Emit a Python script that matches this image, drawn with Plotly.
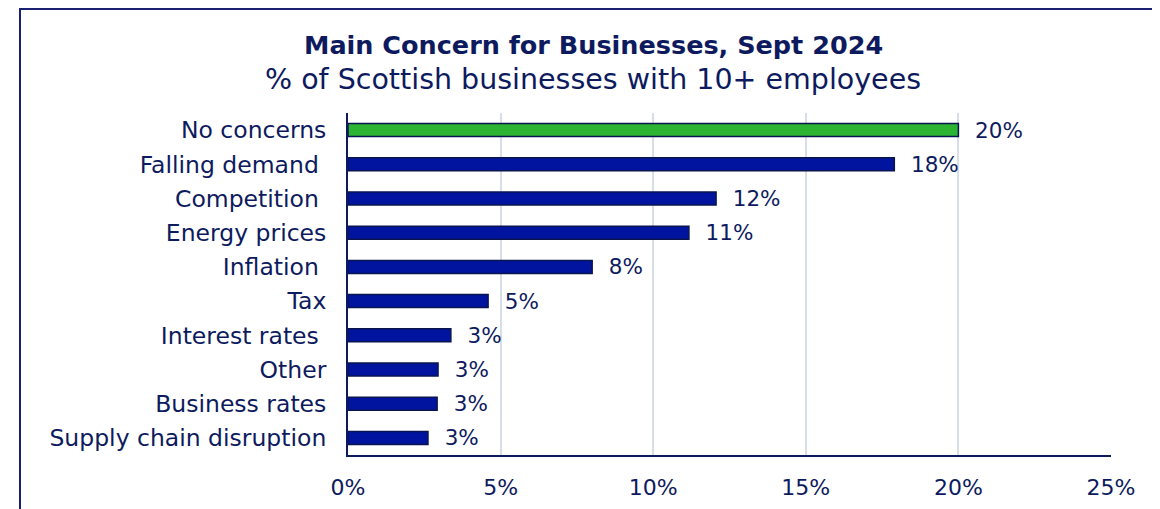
import plotly.graph_objects as go

categories = ["No concerns", "Falling demand\u00a0", "Competition\u00a0", "Energy prices", "Inflation\u00a0",
              "Tax", "Interest rates\u00a0", "Other", "Business rates", "Supply chain disruption"]
values = [20.0, 17.9, 12.06, 11.17, 8.0, 4.59, 3.37, 2.95, 2.92, 2.62]
bar_colors = ["#2db432"] + ["#0014a0"] * 9
x_tickvals = [0, 5, 10, 15, 20, 25]
x_ticktext = ["0%", "5%", "10%", "15%", "20%", "25%"]

title = "Main Concern for Businesses, Sept 2024"
subtitle = "% of Scottish businesses with 10+ employees"

NAVY = "#0d1a5e"
FONT = "DejaVu Sans"

# page is offset by the browser's body margin (~8px), so layout numbers are in figure coords
L, R, T, B = 340, 1103, 105, 447
W, H = R - L, B - T


def px(x):
    return (x - L) / W


def py(y):
    return (B - y) / H


fig = go.Figure(go.Bar(
    x=values, y=categories, orientation="h",
    marker=dict(color=bar_colors, line=dict(color="#0a154f", width=1.5)),
    text=[f"\u00a0\u00a0{v:.0f}%" for v in values],
    textposition="outside", cliponaxis=False, constraintext="none",
    textfont=dict(family=FONT, size=21.5, color=NAVY),
))

fig.update_layout(
    width=1160, height=509,
    margin=dict(l=L, r=1160 - R, t=T, b=509 - B),
    paper_bgcolor="white", plot_bgcolor="white",
    bargap=0.62,
    showlegend=False,
    font=dict(family=FONT, size=21, color=NAVY),
    xaxis=dict(range=[0, 25], tickvals=x_tickvals, ticktext=x_ticktext,
               showgrid=True, gridcolor="#d6dfe9", gridwidth=2,
               showline=True, linecolor=NAVY, linewidth=2,
               ticks="", ticklabelstandoff=12, zeroline=False,
               tickfont=dict(family=FONT, size=22, color=NAVY)),
    yaxis=dict(autorange="reversed", showline=True, linecolor=NAVY, linewidth=2,
               ticks="", ticklabelstandoff=15, showgrid=False,
               tickfont=dict(family=FONT, size=23.5, color=NAVY)),
    annotations=[
        dict(text=f"<b>{title}</b>", xref="paper", yref="paper",
             x=px(585), y=py(37), xanchor="center", yanchor="middle",
             showarrow=False, font=dict(family=FONT, size=25.5, color=NAVY)),
        dict(text=subtitle, xref="paper", yref="paper",
             x=px(585), y=py(72), xanchor="center", yanchor="middle",
             showarrow=False, font=dict(family=FONT, size=28.5, color=NAVY)),
    ],
    shapes=[
        dict(type="line", xref="paper", yref="paper",
             x0=px(12), x1=px(12), y0=py(520), y1=py(0),
             line=dict(color="#1a2170", width=2)),
        dict(type="line", xref="paper", yref="paper",
             x0=px(11), x1=px(1170), y0=py(1), y1=py(1),
             line=dict(color="#1a2170", width=2)),
    ],
)

fig.write_html("out.html")
